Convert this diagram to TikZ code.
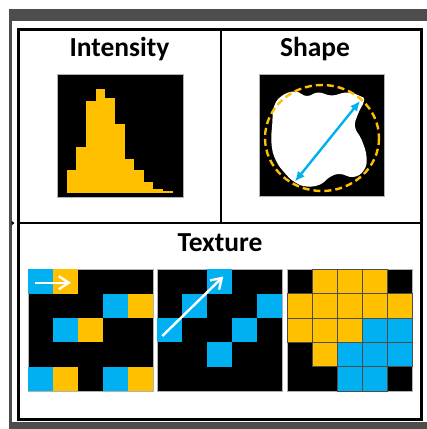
\documentclass[tikz,border=0pt]{standalone}
\usepackage{fontspec}
\setmainfont{Carlito}
\usetikzlibrary{arrows.meta}
\definecolor{yel}{HTML}{FFC000}
\definecolor{blu}{HTML}{00B0F0}
\definecolor{framegray}{HTML}{4D4D4D}
\begin{document}
\begin{tikzpicture}[x=1pt,y=-1pt,
  title/.style={anchor=base, font=\bfseries\fontsize{27.5}{31}\selectfont, inner sep=0pt},
  imgbox/.style={fill=black, draw=gray!60, line width=0.7pt},
  wharrow/.style={white, line width=2.4pt, -{Straight Barb[length=10pt,width=13pt]}},
  bluarrow/.style={blu, line width=2.4pt, {Latex[length=10pt,width=9pt]}-{Latex[length=10pt,width=9pt]}},
  cellline/.style={draw=black!70, line width=0.5pt}]
\useasboundingbox (0,0) rectangle (427,429);
\fill[white] (0,0) rectangle (427,429);
% outer gray frame
\fill[framegray] (9,9) rectangle (427,21);
\fill[framegray] (8.5,9) rectangle (11.5,429);
\fill[framegray] (9,421.5) rectangle (427,429);
\fill[black] (11.5,220.8) -- (14.5,223) -- (11.5,225.4) -- cycle;
% black panel frame
\draw[line width=3pt] (18.5,29.5) rectangle (421.5,419.5);
\draw[line width=2.6pt] (221,29.5) -- (221,223);
\draw[line width=2.6pt] (18.5,223) -- (421.5,223);
% titles
\node[title] (tI) at (119.5,56) {Intensity};
\node[title] (tS) at (315,56) {Shape};
\node[title] (tT) at (220,251) {Texture};
% histogram
\draw[imgbox] (57,74) rectangle (183,197);
\foreach \i/\h in {0/170,1/147.3,2/100.7,3/89.3,4/98.3,5/124,6/158.7,7/170,8/182,9/188.7,10/191}
  \fill[yel] ({66.7+9.64*\i},193) rectangle ({66.7+9.64*(\i+1)},\h);
% shape
\draw[imgbox] (259,74) rectangle (384,196);
\fill[white] plot[smooth cycle, tension=0.75] coordinates {
 (274,106.7) (281.7,96) (295,91.5) (306.7,96) (318.3,92.5) (331.7,95.5)
 (346.7,92.5) (360,96) (364,100.7) (358.3,113.3) (355,126.7) (361.7,140)
 (366.5,156.7) (364,170) (353.3,177) (340,174) (330,177) (320,184.5)
 (306.7,186.5) (295.5,182.5) (285.7,174) (275.7,160) (271.5,143.3) (272.3,123.3)};
\draw[yel, line width=2.4pt, dash pattern=on 7pt off 4pt] (322,138) ellipse [x radius=57, y radius=53];
\coordinate (sA) at (360,101);
\coordinate (sB) at (295,181.5);
\draw[bluarrow] (sA) -- (sB);
% texture 1
\draw[imgbox] (28.3,269.3) rectangle (153.3,391);
\foreach \c/\r/\col in {0/0/blu,1/0/yel,3/1/blu,4/1/yel,1/2/blu,2/2/yel,0/4/blu,1/4/yel,3/4/blu,4/4/yel}
  \fill[\col] ({28.3+25*\c},{269.3+24.34*\r}) rectangle ++(25,24.34);
\coordinate (a1) at (35,282.7);
\coordinate (b1) at (71,282.7);
\draw[wharrow] (a1) -- (b1);
% texture 2
\draw[imgbox] (157.3,269.3) rectangle (282.3,391);
\foreach \c/\r in {2/0,1/1,4/1,0/2,3/2,2/3}
  \fill[blu] ({157.3+25*\c},{269.3+24.34*\r}) rectangle ++(25,24.34);
\coordinate (a2) at (162.3,336);
\coordinate (b2) at (223.3,276.5);
\draw[wharrow] (a2) -- (b2);
% texture 3
\draw[imgbox] (287.3,269.3) rectangle (412.3,391);
\foreach \c/\r/\col in {1/0/yel,2/0/yel,3/0/yel,
  0/1/yel,1/1/yel,2/1/yel,3/1/yel,4/1/yel,
  0/2/yel,1/2/yel,2/2/yel,3/2/blu,4/2/blu,
  1/3/yel,2/3/blu,3/3/blu,4/3/blu,
  2/4/blu,3/4/blu}
  \fill[\col, cellline] ({287.3+25*\c},{269.3+24.34*\r}) rectangle ++(25,24.34);
\end{tikzpicture}
\end{document}
